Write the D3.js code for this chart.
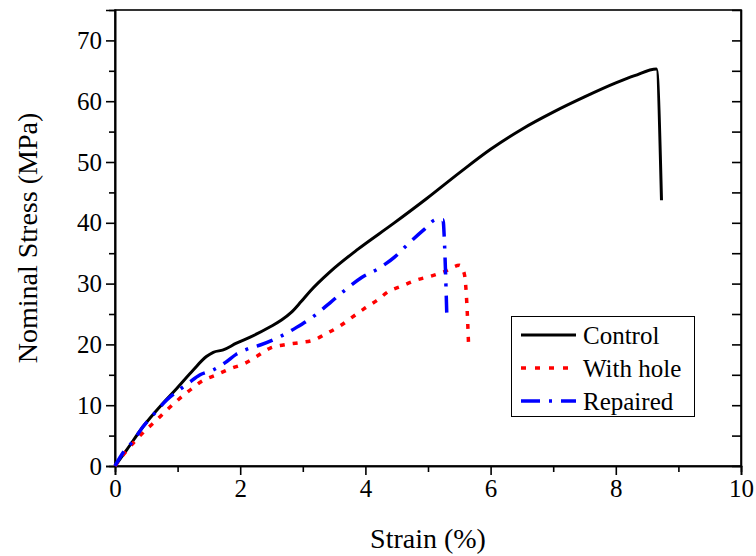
<!DOCTYPE html>
<html>
<head>
<meta charset="utf-8">
<script src="https://cdn.jsdelivr.net/npm/d3@7"></script>
<style>
  body { margin: 0; background: #fff; }
  svg text { font-family: "Liberation Serif", Tinos, "Times New Roman", "DejaVu Serif", serif !important; fill: #000; }
</style>
</head>
<body>
<div id="chart"></div>
<script>
// strain (%) and nominal stress (MPa)
var controlStrain = [0, 0.19, 0.45, 0.72, 0.99, 1.25, 1.46, 1.57, 1.73, 1.94, 2.16, 2.48, 2.66, 2.82, 2.97, 3.12, 3.43, 3.86, 4.45, 4.98, 5.51, 6.0, 6.5, 7.0, 7.5, 8.0, 8.3, 8.65, 8.73];
var controlStress = [0, 2.7, 6.5, 9.8, 12.8, 15.8, 18.0, 18.7, 19.1, 20.2, 21.2, 22.9, 24.0, 25.3, 27.0, 28.8, 31.9, 35.5, 39.9, 44.0, 48.3, 52.1, 55.4, 58.2, 60.7, 63.0, 64.2, 65.3, 43.7];

var holeStrain = [0, 0.16, 0.32, 0.48, 0.67, 0.85, 1.01, 1.20, 1.38, 1.62, 1.84, 2.08, 2.26, 2.48, 2.69, 2.96, 3.17, 3.38, 3.59, 3.78, 3.97, 4.18, 4.37, 4.58, 4.82, 5.04, 5.27, 5.50, 5.58, 5.62, 5.65];
var holeStress = [0, 2.2, 4.1, 5.8, 7.6, 9.4, 10.9, 12.5, 13.9, 15.0, 16.0, 16.9, 18.0, 19.4, 19.9, 20.3, 20.7, 21.8, 23.0, 24.4, 25.8, 27.2, 28.7, 29.6, 30.6, 31.2, 32.0, 33.0, 31.6, 26.8, 19.4];

var repairedStrain = [0, 0.13, 0.29, 0.45, 0.61, 0.83, 1.01, 1.17, 1.36, 1.57, 1.76, 1.94, 2.13, 2.32, 2.64, 2.90, 3.17, 3.43, 3.67, 3.94, 4.23, 4.47, 4.71, 4.95, 5.13, 5.24, 5.26, 5.28, 5.30];
var repairedStress = [0, 2.2, 4.1, 6.5, 8.4, 10.9, 12.4, 13.6, 15.0, 15.8, 17.0, 18.4, 19.3, 19.9, 21.3, 22.8, 24.6, 26.8, 28.9, 31.0, 32.6, 34.4, 36.8, 39.0, 40.5, 40.5, 37.5, 31.9, 25.0];

var seriesNames = ["Control", "With hole", "Repaired"];
var xTicks = [0, 2, 4, 6, 8, 10];
var yTicks = [0, 10, 20, 30, 40, 50, 60, 70];

var W = 756, H = 556;
var margin = { top: 10, right: 15, bottom: 90, left: 115 };
var serif = "'Liberation Serif', Tinos, 'Times New Roman', 'DejaVu Serif', serif";

var svg = d3.select("#chart").append("svg")
    .attr("width", W)
    .attr("height", H);

var x = d3.scaleLinear().domain([0, 10]).range([margin.left, W - margin.right]);
var y = d3.scaleLinear().domain([0, 75]).range([H - margin.bottom, margin.top]);

// frame
svg.append("rect")
    .attr("x", x(0)).attr("y", y(75))
    .attr("width", x(10) - x(0)).attr("height", y(0) - y(75))
    .attr("fill", "none").attr("stroke", "#000").attr("stroke-width", 1.6);

// bottom axis
svg.append("g")
    .attr("transform", "translate(0," + y(0) + ")")
    .call(d3.axisBottom(x).tickValues(xTicks).tickSize(9).tickPadding(4).tickFormat(d3.format("d")));
svg.append("g")
    .attr("transform", "translate(0," + y(0) + ")")
    .call(d3.axisBottom(x).tickValues([1, 3, 5, 7, 9]).tickSize(6).tickFormat(""));

// left axis
svg.append("g")
    .attr("transform", "translate(" + x(0) + ",0)")
    .call(d3.axisLeft(y).tickValues(yTicks).tickSize(9).tickPadding(4).tickFormat(d3.format("d")));
svg.append("g")
    .attr("transform", "translate(" + x(0) + ",0)")
    .call(d3.axisLeft(y).tickValues([5, 15, 25, 35, 45, 55, 65]).tickSize(6).tickFormat(""));

// right axis, ticks inward
svg.append("g")
    .attr("transform", "translate(" + x(10) + ",0)")
    .call(d3.axisLeft(y).tickValues(d3.range(5, 75, 5)).tickSize(9).tickFormat(""));

svg.selectAll("g").attr("font-family", serif);
svg.selectAll(".domain").attr("stroke", "#000").attr("stroke-width", 1.6);
svg.selectAll(".tick line").attr("stroke", "#000").attr("stroke-width", 1.6);
svg.selectAll(".tick text").style("font-size", "25px");

// axis titles
svg.append("text")
    .attr("x", (x(0) + x(10)) / 2)
    .attr("y", 548)
    .attr("text-anchor", "middle")
    .style("font-size", "28px")
    .text("Strain (%)");

svg.append("text")
    .attr("transform", "translate(37," + (y(37.5)) + ") rotate(-90)")
    .attr("text-anchor", "middle")
    .style("font-size", "28px")
    .text("Nominal Stress (MPa)");

// curves
var line = d3.line()
    .x(function (d) { return x(d[0]); })
    .y(function (d) { return y(d[1]); })
    .curve(d3.curveMonotoneX);

var series = [
    { pts: d3.zip(controlStrain, controlStress), color: "#000", dash: null, w: 3 },
    { pts: d3.zip(holeStrain, holeStress), color: "#ff0000", dash: "5,8", w: 3.5 },
    { pts: d3.zip(repairedStrain, repairedStress), color: "#0000ff", dash: "17,9,3,9", w: 3.5 }
];

series.forEach(function (s) {
    svg.append("path")
        .datum(s.pts)
        .attr("fill", "none")
        .attr("stroke", s.color)
        .attr("stroke-width", s.w)
        .attr("stroke-dasharray", s.dash)
        .attr("stroke-linejoin", "round")
        .attr("d", line);
});

// legend
var legend = svg.append("g");
legend.append("rect")
    .attr("x", 511.5).attr("y", 316.5)
    .attr("width", 183).attr("height", 100)
    .attr("fill", "#fff").attr("stroke", "#000").attr("stroke-width", 1);

seriesNames.forEach(function (name, i) {
    var cy = 335 + i * 33;
    legend.append("line")
        .attr("x1", 521).attr("x2", 576)
        .attr("y1", cy).attr("y2", cy)
        .attr("stroke", series[i].color)
        .attr("stroke-width", series[i].w)
        .attr("stroke-dasharray", i == 1 ? "5,9" : (i == 2 ? "19,9,3,9" : null));
    legend.append("text")
        .attr("x", 583).attr("y", cy + 9)
        .style("font-size", "25px")
        .text(name);
});
</script>
</body>
</html>
